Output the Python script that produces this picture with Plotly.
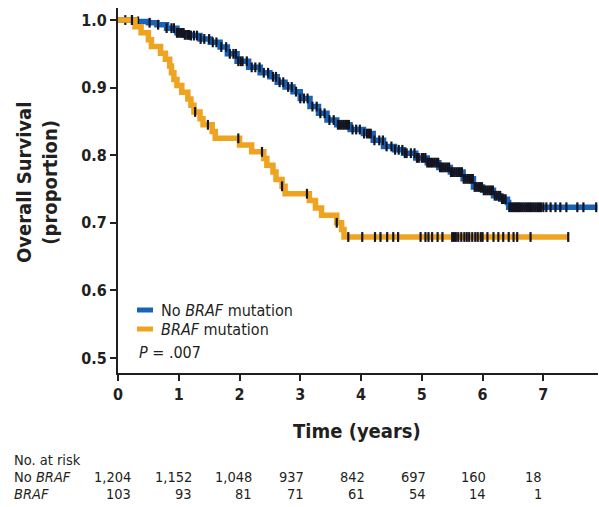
import numpy as np
import plotly.graph_objects as go

# ---------------- data ----------------
series_names = ["No <i>BRAF</i> mutation", "<i>BRAF</i> mutation"]
p_text = "<i>P</i> = .007"

nobraf_t = [0, 0.3, 0.5, 0.64, 0.8, 0.97, 1.1, 1.19, 1.35, 1.52, 1.68, 1.8, 1.96, 2.15,
            2.34, 2.5, 2.62, 2.75, 2.88, 3.0, 3.16, 3.3, 3.44, 3.6, 3.82, 4.04, 4.2, 4.37,
            4.55, 4.7, 4.9, 5.09, 5.28, 5.47, 5.68, 5.85, 6.0, 6.18, 6.3, 6.41, 6.43, 7.89]
nobraf_s = [1.0, 0.998, 0.996, 0.993, 0.988, 0.981, 0.978, 0.977, 0.972, 0.967, 0.960,
            0.950, 0.939, 0.930, 0.922, 0.916, 0.908, 0.901, 0.894, 0.884, 0.872, 0.862,
            0.852, 0.845, 0.838, 0.832, 0.822, 0.813, 0.808, 0.803, 0.796, 0.789, 0.782,
            0.775, 0.765, 0.753, 0.748, 0.740, 0.735, 0.730, 0.723, 0.723]
nobraf_censor = [0.12, 0.23, 0.33, 0.52, 0.66, 0.8, 0.88, 0.92, 0.97, 1.0, 1.03, 1.05, 1.08,
                 1.1, 1.14, 1.17, 1.2, 1.25, 1.3, 1.36, 1.42, 1.5, 1.56, 1.62, 1.7, 1.78,
                 1.84, 1.9, 1.94, 1.98, 2.02, 2.05, 2.12, 2.2, 2.26, 2.33, 2.4, 2.47, 2.55,
                 2.6, 2.66, 2.72, 2.8, 2.86, 2.93, 3.0, 3.06, 3.12, 3.2, 3.27, 3.33, 3.4,
                 3.48, 3.55, 3.62, 3.65, 3.68, 3.71, 3.74, 3.77, 3.8, 3.86, 3.92, 3.98,
                 4.05, 4.1, 4.13, 4.16, 4.22, 4.3, 4.36, 4.42, 4.5, 4.56, 4.62, 4.68, 4.72,
                 4.75, 4.82, 4.88, 4.92, 4.95, 5.0, 5.03, 5.06, 5.09, 5.12, 5.15, 5.18,
                 5.21, 5.24, 5.27, 5.3, 5.33, 5.36, 5.39, 5.42, 5.45, 5.48, 5.51, 5.54,
                 5.57, 5.6, 5.63, 5.66, 5.69, 5.72, 5.75, 5.78, 5.81, 5.84, 5.87, 5.9, 5.93,
                 5.96, 5.99, 6.02, 6.05, 6.08, 6.11, 6.14, 6.17, 6.2, 6.23, 6.26, 6.29,
                 6.32, 6.35, 6.38, 6.44, 6.47, 6.5, 6.53, 6.55, 6.58, 6.6, 6.63, 6.66,
                 6.69, 6.72, 6.75, 6.78, 6.81, 6.84, 6.87, 6.9, 6.93, 6.96, 7.0, 7.05, 7.12,
                 7.2, 7.28, 7.38, 7.56, 7.66, 7.87]

braf_t = [0, 0.28, 0.38, 0.50, 0.55, 0.70, 0.78, 0.85, 0.88, 0.92, 0.97, 1.05, 1.15, 1.20,
          1.25, 1.35, 1.40, 1.55, 1.60, 2.00, 2.20, 2.40, 2.45, 2.55, 2.60, 2.70, 2.75,
          3.15, 3.25, 3.35, 3.60, 3.68, 3.72, 7.41]
braf_s = [1.0, 0.990, 0.981, 0.971, 0.961, 0.951, 0.942, 0.932, 0.922, 0.912, 0.903, 0.893,
          0.883, 0.874, 0.864, 0.854, 0.845, 0.835, 0.825, 0.815, 0.805, 0.795, 0.785,
          0.775, 0.764, 0.754, 0.743, 0.733, 0.722, 0.711, 0.700, 0.690, 0.679, 0.679]
braf_censor = [0.23, 1.27, 1.48, 1.98, 2.37, 2.7, 3.11, 3.6, 3.79, 4.02, 4.23, 4.32, 4.43,
               4.53, 4.61, 4.98, 5.06, 5.11, 5.17, 5.26, 5.34, 5.5, 5.53, 5.56, 5.6, 5.65,
               5.7, 5.74, 5.78, 5.83, 5.88, 5.92, 5.97, 6.0, 6.08, 6.18, 6.26, 6.34, 6.43,
               6.51, 6.57, 6.79, 7.41]

risk_times = [0, 1, 2, 3, 4, 5, 6, 7]
risk_nobraf = ["1,204", "1,152", "1,048", "937", "842", "697", "160", "18"]
risk_braf = ["103", "93", "81", "71", "61", "54", "14", "1"]

x_ticks = [0, 1, 2, 3, 4, 5, 6, 7]
y_ticks = [0.5, 0.6, 0.7, 0.8, 0.9, 1.0]

# ---------------- style ----------------
BLUE = "#1862b8"
ORANGE = "#eea321"
CENSOR = "#141420"
TXT = "#231f20"
FONT = "DejaVu Sans Condensed, Liberation Sans Narrow, Roboto, sans-serif"

W, H = 599, 507
L, R, T, B = 118, 1, 8, 134
PW, PH = W - L - R, H - T - B


def px(x):
    return (x - L) / PW


def py(y):
    return (T + PH - y) / PH


def step_eval(ts, ss, q):
    idx = np.searchsorted(np.array(ts), np.array(q), side="right") - 1
    return np.array(ss)[idx]


fig = go.Figure()

for ts, ss, cens, col, nm in [
    (nobraf_t, nobraf_s, nobraf_censor, BLUE, series_names[0]),
    (braf_t, braf_s, braf_censor, ORANGE, series_names[1]),
]:
    fig.add_trace(go.Scatter(x=ts, y=ss, mode="lines", line=dict(color=col, width=5.5, shape="hv"),
                             name=nm, showlegend=False, hoverinfo="skip"))
    fig.add_trace(go.Scatter(x=cens, y=step_eval(ts, ss, cens), mode="markers",
                             marker=dict(symbol="line-ns", size=7,
                                         line=dict(color=CENSOR, width=2.2)),
                             showlegend=False, hoverinfo="skip"))

axis_font = dict(family=FONT, size=16, color=TXT, weight="bold")
fig.update_xaxes(range=[0, 7.9], tickvals=x_ticks, ticktext=[str(v) for v in x_ticks],
                 showgrid=False, zeroline=False, showline=True, linecolor=TXT, linewidth=2,
                 ticks="outside", ticklen=6, tickwidth=2, tickcolor=TXT, tickfont=axis_font)
fig.update_yaxes(range=[0.4778, 1.0178], tickvals=y_ticks,
                 ticktext=["%.1f" % v for v in y_ticks],
                 showgrid=False, zeroline=False, showline=True, linecolor=TXT, linewidth=2,
                 ticks="outside", ticklen=6, tickwidth=2, tickcolor=TXT, tickfont=axis_font)

ann = []


def add_text(text, x, y, xanchor="center", size=15, angle=0):
    ann.append(dict(text=text, x=px(x), y=py(y), xref="paper", yref="paper", showarrow=False,
                    xanchor=xanchor, yanchor="middle", textangle=angle,
                    font=dict(family=FONT, size=size, color=TXT)))


# axis titles
add_text("<b>Time (years)</b>", 357, 431, size=20)
add_text("<b>Overall Survival<br>(proportion)</b>", 37, 183, size=20, angle=-90)

# legend (manual)
shapes = []
for i, (nm, col) in enumerate(zip(series_names, [BLUE, ORANGE])):
    yy = 310 + i * 19
    shapes.append(dict(type="line", xref="paper", yref="paper", x0=px(137), x1=px(153),
                       y0=py(yy), y1=py(yy), line=dict(color=col, width=5)))
    add_text(nm, 159, yy, xanchor="left", size=16)
add_text(p_text, 137, 352, xanchor="left", size=16)

# at-risk table
add_text("No. at risk", 12, 460, xanchor="left", size=14.5)
add_text("No <i>BRAF</i>", 12, 477, xanchor="left", size=14.5)
add_text("<i>BRAF</i>", 12, 494, xanchor="left", size=14.5)
right_edges = [133, 194, 254, 306, 367, 428, 488, 544]
for rx, a, b in zip(right_edges, risk_nobraf, risk_braf):
    add_text(a, rx, 477, xanchor="right", size=14.5)
    add_text(b, rx, 494, xanchor="right", size=14.5)

fig.update_layout(width=W, height=H, margin=dict(l=L, r=R, t=T, b=B, pad=0),
                  plot_bgcolor="white", paper_bgcolor="white", annotations=ann, shapes=shapes,
                  showlegend=False)

fig.write_html("out.html", config={"displayModeBar": False},
               post_script="document.body.style.margin='0px';"
                           "document.body.style.overflow='hidden';")
